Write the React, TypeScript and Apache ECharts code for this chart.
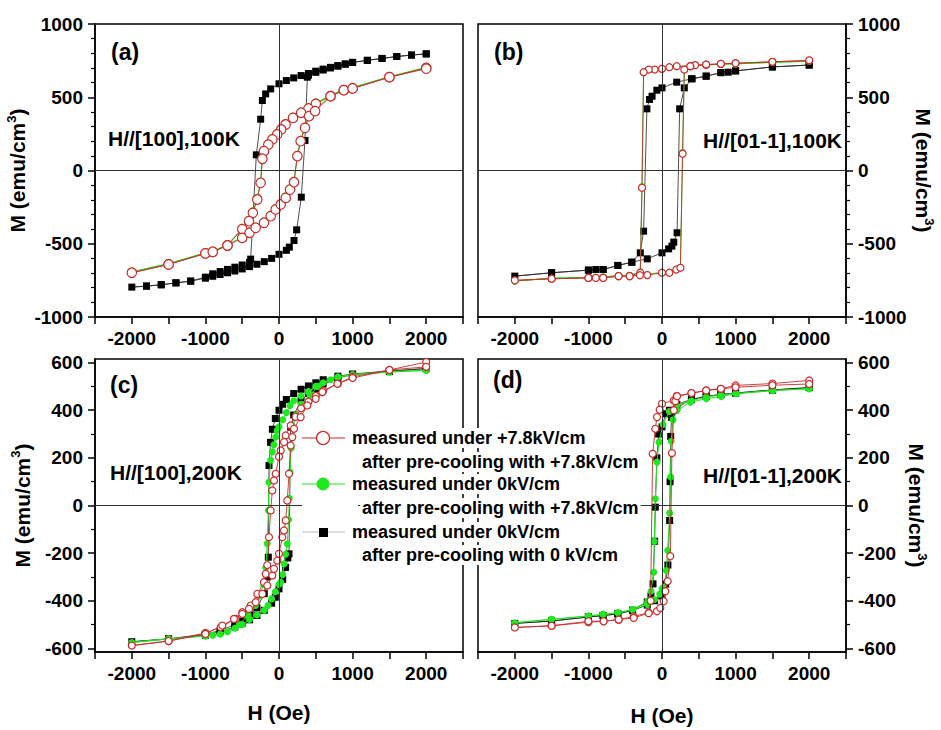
import React, { useEffect, useRef } from 'react';
import * as echarts from 'echarts';

// ---------- data: [H (Oe), M (emu/cm3)], descending branch then ascending branch ----------
const aBlack: [number, number][] = [
  [2000, 796], [1800, 788], [1600, 778], [1400, 765], [1200, 752], [1000, 738], [900, 728], [800, 716], [700, 704], [600, 692],
  [500, 678], [400, 662], [300, 648], [200, 632], [100, 614], [0, 592], [-113, 557], [-181, 523], [-226, 478], [-249, 350],
  [-308, 107], [-385, -605], [-400, -628], [-500, -645], [-600, -660], [-700, -675], [-800, -690], [-900, -705], [-1000, -728],
  [-1200, -755], [-1400, -767], [-1600, -780], [-1800, -789], [-2000, -796],
  [-1800, -789], [-1600, -780], [-1400, -767], [-1200, -755], [-1000, -735], [-900, -722], [-800, -710], [-700, -698], [-600, -686],
  [-500, -672], [-400, -656], [-300, -640], [-200, -622], [-100, -600], [0, -572], [100, -545], [140, -523], [204, -478],
  [240, -405], [303, -182], [353, 205], [385, 637], [400, 650], [500, 670], [600, 686], [700, 700], [800, 712], [900, 725],
  [1000, 738], [1200, 752], [1400, 765], [1600, 778], [1800, 788], [2000, 796],
];
const aGreen: [number, number][] = [
  [2000, 705], [1500, 640], [1000, 566], [880, 552], [700, 512], [500, 462], [400, 430], [300, 400], [190, 366], [90, 322],
  [30, 288], [-25, 254], [-90, 218], [-145, 184], [-204, 138], [-226, 88], [-250, -78], [-295, -190], [-355, -282], [-408, -340],
  [-500, -395], [-700, -507], [-900, -551], [-1000, -562], [-1500, -636], [-2000, -692],
  [-1500, -636], [-1000, -562], [-900, -551], [-700, -507], [-500, -455], [-400, -420], [-317, -386], [-204, -350], [-113, -305],
  [-45, -260], [23, -226], [91, -180], [150, -124], [204, -74], [249, 104], [294, 206], [353, 297], [408, 377], [490, 412],
  [700, 512], [880, 552], [1000, 566], [1500, 640], [2000, 700],
];
const aRed: [number, number][] = [
  [2000, 700], [1500, 637], [1000, 560], [880, 548], [700, 507], [500, 455], [400, 423], [300, 394], [190, 359], [90, 314],
  [30, 280], [-25, 246], [-90, 212], [-145, 177], [-204, 132], [-226, 80], [-250, -84], [-295, -198], [-355, -289], [-408, -346],
  [-500, -400], [-700, -512], [-900, -555], [-1000, -566], [-1500, -641], [-2000, -698],
  [-1500, -641], [-1000, -566], [-900, -555], [-700, -512], [-500, -460], [-400, -425], [-317, -391], [-204, -357], [-113, -312],
  [-45, -266], [23, -232], [91, -187], [150, -130], [204, -80], [249, 98], [294, 200], [353, 291], [408, 371], [490, 405],
  [700, 507], [880, 548], [1000, 560], [1500, 637], [2000, 695],
];

const bBlack: [number, number][] = [
  [2000, 720], [1500, 707], [1000, 680], [900, 671], [800, 668], [600, 644], [400, 626], [200, 603], [0, 564], [-70, 548],
  [-135, 507], [-170, 485], [-205, 421], [-250, -414], [-295, -562], [-410, -626], [-600, -648], [-800, -676], [-900, -676],
  [-1000, -680], [-1500, -698], [-2000, -721],
  [-1500, -698], [-1000, -680], [-800, -676], [-600, -648], [-410, -626], [-200, -603], [0, -562], [90, -535], [135, -516],
  [160, -489], [205, -425], [240, 421], [303, 564], [410, 626], [600, 644], [800, 668], [1000, 680], [1500, 707], [2000, 720],
];
const bGreen: [number, number][] = [
  [2000, 745], [1500, 738], [1000, 728], [800, 726], [600, 720], [450, 717], [385, 710], [200, 710], [100, 704], [0, 698],
  [-100, 690], [-180, 688], [-250, 668], [-272, -110], [-295, -692], [-440, -716], [-590, -717], [-800, -728], [-900, -728],
  [-1000, -730], [-1500, -735], [-2000, -755],
  [-1500, -735], [-1000, -730], [-800, -728], [-590, -717], [-440, -716], [-300, -710], [-200, -710], [0, -694], [100, -694],
  [195, -672], [250, -660], [280, 125], [303, 692], [385, 714], [600, 720], [800, 726], [1000, 728], [1500, 738], [2000, 748],
];
const bRed: [number, number][] = [
  [2000, 750], [1500, 742], [1000, 732], [800, 728], [600, 723], [450, 719], [385, 712], [200, 712], [100, 705], [0, 694],
  [-100, 689], [-180, 689], [-250, 671], [-272, -118], [-295, -698], [-440, -721], [-590, -721], [-800, -733], [-900, -733],
  [-1000, -733], [-1500, -739], [-2000, -750],
  [-1500, -739], [-1000, -733], [-800, -733], [-590, -721], [-440, -721], [-300, -715], [-200, -714], [0, -698], [100, -698],
  [195, -676], [250, -664], [280, 114], [303, 689], [385, 712], [600, 723], [800, 728], [1000, 732], [1500, 742], [2000, 752],
];

const cBlack: [number, number][] = [
  [2000, 575], [1500, 565], [1000, 552], [800, 543], [600, 528], [500, 515], [400, 502], [300, 488], [200, 470], [100, 445],
  [50, 425], [0, 400], [-50, 365], [-90, 320], [-115, 265], [-136, 168], [-145, -217], [-160, -300], [-200, -370], [-300, -430],
  [-400, -460], [-500, -485], [-600, -500], [-800, -525], [-1000, -540], [-1500, -560], [-2000, -572],
  [-1500, -560], [-1000, -545], [-800, -530], [-600, -510], [-500, -495], [-400, -480], [-300, -462], [-200, -440], [-100, -410],
  [-50, -385], [0, -350], [50, -310], [90, -260], [120, -220], [136, -203], [159, 329], [200, 380], [300, 440], [400, 470],
  [500, 490], [600, 510], [800, 535], [1000, 550], [1500, 562], [2000, 575],
];
const cGreen: [number, number][] = [
  [2000, 567], [1500, 562], [1000, 550], [800, 540], [600, 515], [500, 500], [400, 478], [300, 460], [200, 440], [150, 420],
  [100, 390], [50, 360], [0, 330], [-25, 315], [-45, 287], [-70, 255], [-91, 225], [-113, 190], [-136, 98], [-145, -20],
  [-160, -160], [-180, -260], [-210, -330], [-260, -380], [-320, -420], [-420, -460], [-540, -500], [-700, -530], [-900, -545],
  [-1000, -548], [-1500, -560], [-2000, -575],
  [-1500, -560], [-1000, -548], [-800, -540], [-600, -515], [-500, -500], [-400, -478], [-300, -460], [-200, -440], [-150, -420],
  [-100, -392], [-50, -362], [0, -332], [23, -322], [50, -290], [68, -245], [90, -205], [113, -161], [130, -60], [140, 30],
  [150, 140], [165, 240], [190, 330], [230, 380], [300, 425], [420, 465], [540, 500], [700, 528], [800, 538], [1000, 548],
  [1500, 560], [2000, 567],
];
const cRed: [number, number][] = [
  [2000, 602], [1500, 569], [1000, 540], [800, 512], [600, 482], [500, 460], [400, 436], [300, 408], [225, 372], [160, 336],
  [90, 294], [68, 266], [23, 231], [0, 205], [-45, 133], [-68, 105], [-91, 63], [-113, -21], [-136, -133], [-159, -250],
  [-181, -287], [-204, -322], [-294, -371], [-385, -420], [-498, -448], [-589, -476], [-793, -511], [-1000, -535],
  [-1500, -569], [-2000, -588],
  [-1500, -569], [-1000, -539], [-770, -504], [-612, -476], [-498, -455], [-408, -434], [-317, -406], [-226, -371], [-159, -336],
  [-91, -294], [-68, -266], [-23, -231], [0, -203], [45, -133], [68, -105], [91, -63], [113, 21], [136, 133], [159, 252],
  [181, 287], [204, 322], [294, 371], [385, 420], [498, 448], [589, 476], [793, 511], [1000, 535], [1500, 569], [2000, 582],
];

const dBlack: [number, number][] = [
  [2000, 495], [1500, 485], [1000, 472], [800, 466], [600, 458], [400, 445], [200, 425], [100, 400], [50, 385], [0, 330],
  [-45, 300], [-70, 200], [-91, -7], [-100, -150], [-122, -329], [-150, -380], [-200, -405], [-400, -440], [-600, -455],
  [-800, -462], [-1000, -468], [-1500, -485], [-2000, -495],
  [-1500, -485], [-1000, -468], [-800, -462], [-600, -455], [-400, -440], [-200, -418], [-100, -400], [0, -380], [50, -330],
  [80, -250], [104, -63], [110, 100], [118, 290], [130, 370], [200, 410], [400, 445], [600, 458], [800, 466], [1000, 472],
  [1500, 485], [2000, 495],
];
const dGreen: [number, number][] = [
  [2000, 490], [1500, 482], [1000, 470], [800, 465], [600, 455], [400, 440], [200, 420], [100, 395], [14, 340], [-41, 266],
  [-68, 182], [-91, 28], [-105, -150], [-113, -280], [-150, -360], [-195, -402], [-400, -437], [-600, -450], [-800, -457],
  [-1000, -464], [-1500, -478], [-2000, -492],
  [-1500, -478], [-1000, -464], [-800, -457], [-600, -450], [-400, -437], [-200, -415], [-100, -395], [-30, -372], [0, -350],
  [23, -343], [59, -273], [77, -189], [104, -32], [118, 120], [125, 270], [150, 360], [204, 399], [385, 434], [602, 448],
  [802, 458], [1010, 469], [1508, 483], [2000, 490],
];
const dRed: [number, number][] = [
  [2000, 525], [1500, 512], [1000, 504], [800, 490], [600, 483], [400, 471], [200, 459], [160, 441], [0, 427], [-32, 402],
  [-68, 371], [-91, 322], [-127, 217], [-155, -400], [-181, -450], [-385, -466], [-589, -479], [-793, -486], [-1000, -490],
  [-1500, -505], [-2000, -512],
  [-1500, -505], [-1000, -486], [-793, -486], [-589, -479], [-385, -472], [-181, -452], [-68, -444], [-23, -430], [23, -402],
  [45, -360], [77, -318], [113, -213], [135, 220], [160, 400], [181, 438], [204, 459], [400, 472], [600, 483], [800, 490],
  [1000, 496], [1500, 505], [2000, 510],
];

const panelLabels = ['(a)', '(b)', '(c)', '(d)'];
const panelConditions = ['H//[100],100K', 'H//[01-1],100K', 'H//[100],200K', 'H//[01-1],200K'];
const seriesNames = [
  ['measured under 0kV/cm', 'after pre-cooling with 0 kV/cm'],
  ['measured under 0kV/cm', 'after pre-cooling with +7.8kV/cm'],
  ['measured under +7.8kV/cm', 'after pre-cooling with +7.8kV/cm'],
];
const xLabelValues = [-2000, -1000, 0, 1000, 2000];
const yMajorCD = [-600, -400, -200, 0, 200, 400, 600];
const yMinorCD = [-500, -300, -100, 100, 300, 500];

// ---------- style ----------
const FONT = "'Liberation Sans', Arial, Helvetica, sans-serif";
const RED = '#cc2b2b';
const GREEN = '#1ee81e';
const BLACK = '#000000';

const tickLabel = { fontFamily: FONT, fontWeight: 'bold' as const, fontSize: 19, color: '#000' };
const nameStyle = {
  fontFamily: FONT, fontWeight: 'bold' as const, fontSize: 21, color: '#000', lineHeight: 26,
  rich: { s: { fontFamily: FONT, fontWeight: 'bold' as const, fontSize: 13, color: '#000', verticalAlign: 'top' as const, lineHeight: 14 } },
};

const GRIDS = [
  { left: 95, top: 24, width: 368, height: 293 },
  { left: 478, top: 24, width: 368, height: 293 },
  { left: 95, top: 359, width: 368, height: 293 },
  { left: 478, top: 359, width: 368, height: 293 },
];

function buildOption() {
  const grid = GRIDS.map((g) => ({ ...g, show: true, borderColor: '#000', borderWidth: 1.5, backgroundColor: 'transparent' }));

  const xAxis = GRIDS.map((_, i) => ({
    type: 'value', gridIndex: i, min: -2500, max: 2500, interval: 500,
    axisLine: { show: true, onZero: false, lineStyle: { color: '#000', width: 1.5 } },
    axisTick: { show: true, length: 7, lineStyle: { color: '#000', width: 1.5 } },
    axisLabel: { ...tickLabel, margin: 12, formatter: (v: number) => (xLabelValues.includes(v) ? String(v) : '') },
    splitLine: { show: false },
    name: i >= 2 ? 'H (Oe)' : '',
    nameLocation: 'middle', nameGap: i === 2 ? 50 : 53,
    nameTextStyle: { fontFamily: FONT, fontWeight: 'bold', fontSize: 21, color: '#000' },
  }));

  const yCommon = (i: number) => {
    const right = i % 2 === 1;
    return {
      type: 'value', gridIndex: i, position: right ? 'right' : 'left',
      axisLine: { show: true, onZero: false, lineStyle: { color: '#000', width: 1.5 } },
      splitLine: { show: false },
      name: 'M (emu/cm{s|3})', nameLocation: 'middle',
      nameGap: right ? 57 : 60, nameRotate: right ? -90 : 90,
      nameTextStyle: nameStyle,
    };
  };

  const yAxis: any[] = [
    { ...yCommon(0), min: -1000, max: 1000, interval: 500,
      axisTick: { show: true, length: 7, lineStyle: { color: '#000', width: 1.5 } },
      minorTick: { show: true, splitNumber: 5, length: 4, lineStyle: { color: '#000', width: 1.2 } },
      axisLabel: { ...tickLabel, margin: 12, formatter: (v: number) => String(v) } },
    { ...yCommon(1), min: -1000, max: 1000, interval: 500,
      axisTick: { show: true, length: 7, lineStyle: { color: '#000', width: 1.5 } },
      minorTick: { show: true, splitNumber: 5, length: 4, lineStyle: { color: '#000', width: 1.2 } },
      axisLabel: { ...tickLabel, margin: 12, formatter: (v: number) => String(v) } },
    { ...yCommon(2), min: -615, max: 615,
      axisTick: { show: true, length: 7, customValues: yMajorCD, lineStyle: { color: '#000', width: 1.5 } },
      axisLabel: { ...tickLabel, margin: 12, customValues: yMajorCD, formatter: (v: number) => String(v) } },
    { ...yCommon(3), min: -615, max: 615,
      axisTick: { show: true, length: 7, customValues: yMajorCD, lineStyle: { color: '#000', width: 1.5 } },
      axisLabel: { ...tickLabel, margin: 12, customValues: yMajorCD, formatter: (v: number) => String(v) } },
  ];
  [2, 3].forEach((gi) => {
    yAxis.push({
      type: 'value', gridIndex: gi, position: gi === 3 ? 'right' : 'left', min: -615, max: 615,
      axisLine: { show: false, onZero: false },
      axisTick: { show: true, length: 4, customValues: yMinorCD, lineStyle: { color: '#000', width: 1.2 } },
      axisLabel: { show: false }, splitLine: { show: false },
    });
  });

  const panels = [
    { black: aBlack, green: aGreen, red: aRed, big: true },
    { black: bBlack, green: bGreen, red: bRed, big: false },
    { black: cBlack, green: cGreen, red: cRed, big: false },
    { black: dBlack, green: dGreen, red: dRed, big: false },
  ];

  const series: any[] = [];
  panels.forEach((p, i) => {
    const base = { type: 'line', xAxisIndex: i, yAxisIndex: i, showAllSymbol: true, animation: false, silent: true };
    series.push({
      ...base, name: seriesNames[0][0] + ' (pre 0)', data: p.black,
      symbol: 'rect', symbolSize: 7,
      itemStyle: { color: BLACK },
      lineStyle: { color: '#222', width: 0.8 },
      markLine: {
        silent: true, symbol: ['none', 'none'], label: { show: false },
        lineStyle: { color: '#333', width: 1, type: 'solid' },
        data: [{ xAxis: 0 }, { yAxis: 0 }],
      },
      z: 2,
    });
    series.push({
      ...base, name: seriesNames[1][0] + ' (pre 7.8)', data: p.green,
      symbol: 'circle', symbolSize: p.big ? 9 : 7,
      itemStyle: { color: GREEN },
      lineStyle: { color: GREEN, width: 1 },
      z: 3,
    });
    series.push({
      ...base, name: seriesNames[2][0], data: p.red,
      symbol: 'circle', symbolSize: p.big ? 9.5 : 7,
      itemStyle: { color: '#ffffff', borderColor: RED, borderWidth: 1.2 },
      lineStyle: { color: RED, width: 0.9 },
      z: 4,
    });
  });

  const txt = (x: number, y: number, text: string, size: number, align = 'left', bg = false) => ({
    type: 'text', x, y, z: 100,
    style: {
      text, fontFamily: FONT, fontWeight: 'bold', fontSize: size, fill: '#000',
      align, verticalAlign: 'middle', textAlign: align, textVerticalAlign: 'middle',
      ...(bg ? { backgroundColor: '#fff', padding: [1, 2] } : {}),
    },
  });

  const graphic: any[] = [
    txt(111, 52, panelLabels[0], 23),
    txt(108, 138, panelConditions[0], 21),
    txt(494, 52, panelLabels[1], 23),
    txt(842, 140, panelConditions[1], 21, 'right'),
    txt(110, 385, panelLabels[2], 23),
    txt(110, 472, panelConditions[2], 21),
    txt(493, 380, panelLabels[3], 23),
    txt(842, 475, panelConditions[3], 21, 'right'),
    // legend
    { type: 'rect', z: 99, shape: { x: 302, y: 426, width: 56, height: 138 }, style: { fill: '#fff' } },
    { type: 'line', z: 100, shape: { x1: 302, y1: 438, x2: 345, y2: 438 }, style: { stroke: RED, lineWidth: 1 } },
    { type: 'circle', z: 101, shape: { cx: 323, cy: 438, r: 6.5 }, style: { fill: '#fff', stroke: RED, lineWidth: 1.3 } },
    { type: 'line', z: 100, shape: { x1: 302, y1: 484, x2: 345, y2: 484 }, style: { stroke: GREEN, lineWidth: 1 } },
    { type: 'circle', z: 101, shape: { cx: 323, cy: 484, r: 6 }, style: { fill: GREEN, stroke: GREEN, lineWidth: 1 } },
    { type: 'line', z: 100, shape: { x1: 302, y1: 532, x2: 345, y2: 532 }, style: { stroke: '#bbbbbb', lineWidth: 1 } },
    { type: 'rect', z: 101, shape: { x: 319, y: 528, width: 9, height: 9 }, style: { fill: BLACK } },
    txt(350, 438, seriesNames[2][0], 18, 'left', true),
    txt(360, 462, seriesNames[2][1], 18, 'left', true),
    txt(350, 484, seriesNames[1][0], 18, 'left', true),
    txt(360, 508, seriesNames[1][1], 18, 'left', true),
    txt(350, 532, seriesNames[0][0], 18, 'left', true),
    txt(360, 555, seriesNames[0][1], 18, 'left', true),
  ];

  return { animation: false, backgroundColor: '#ffffff', grid, xAxis, yAxis, series, graphic };
}

export default function App() {
  const ref = useRef<HTMLDivElement>(null);
  useEffect(() => {
    if (!ref.current) return;
    const chart = echarts.init(ref.current, undefined, { renderer: 'svg' });
    chart.setOption(buildOption() as any);
    return () => chart.dispose();
  }, []);
  return (
    <div
      ref={ref}
      style={{ position: 'fixed', left: 0, top: 0, width: 941, height: 730, background: '#fff' }}
    />
  );
}
